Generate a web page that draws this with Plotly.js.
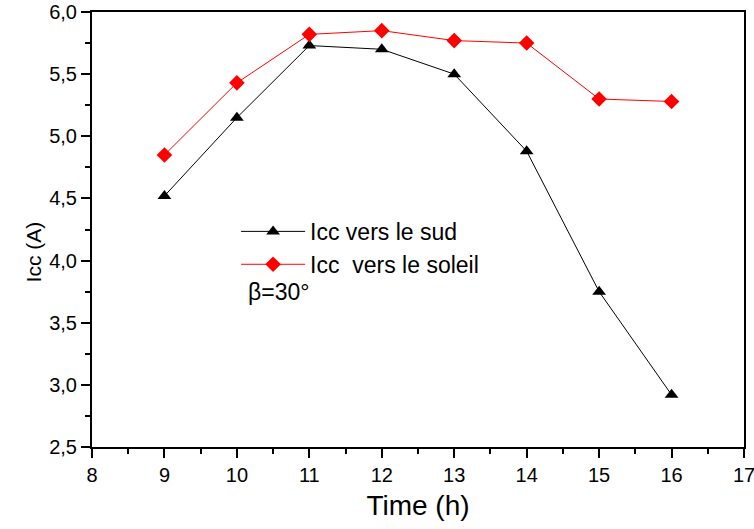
<!DOCTYPE html>
<html><head><meta charset="utf-8">
<script src="https://cdn.plot.ly/plotly-3.0.1.min.js"></script>
<style>html,body{margin:0;padding:0;background:#fff}</style>
</head><body><div id="chart" style="width:754px;height:529px"></div>
<script>
const hours = [9, 10, 11, 12, 13, 14, 15, 16];
const iccSud = [4.52, 5.15, 5.73, 5.70, 5.50, 4.88, 3.75, 2.92];
const iccSoleil = [4.85, 5.43, 5.82, 5.85, 5.77, 5.75, 5.30, 5.28];
const seriesNames = ['Icc vers le sud', 'Icc  vers le soleil'];
const xTitle = 'Time (h)';
const yTitle = 'Icc (A)';
const noteText = 'β=30°';

const font = 'Arial, "Liberation Sans", sans-serif';
const traces = [
  {x: hours, y: iccSud, name: seriesNames[0], type: 'scatter', mode: 'lines+markers',
   line: {color: '#000000', width: 1}, marker: {symbol: 'triangle-up', size: 12, color: '#000000'}},
  {x: hours, y: iccSoleil, name: seriesNames[1], type: 'scatter', mode: 'lines+markers',
   line: {color: '#ff0000', width: 1}, marker: {symbol: 'diamond', size: 12, color: '#ff0000'}}
];
const xaxis = {
  showgrid: false, zeroline: false, showline: true, linecolor: '#000', linewidth: 2, mirror: true,
  ticks: 'outside', ticklen: 9, tickwidth: 2, tickcolor: '#000',
  tickfont: {family: font, size: 20, color: '#000000'},
  ticklabeloverflow: 'allow',
  range: [8, 17], tickmode: 'linear', dtick: 1, tick0: 8,
  minor: {dtick: 0.5, ticks: 'outside', ticklen: 5, tickwidth: 2, tickcolor: '#000'},
  title: {text: xTitle, font: {family: font, size: 28, color: '#000'}, standoff: 10}
};
const yaxis = {
  showgrid: false, zeroline: false, showline: true, linecolor: '#000', linewidth: 2, mirror: true,
  ticks: 'outside', ticklen: 9, tickwidth: 2, tickcolor: '#000',
  tickfont: {family: font, size: 20, color: '#000000'},
  ticklabeloverflow: 'allow',
  range: [2.5, 6.0], tickmode: 'linear', dtick: 0.5, tick0: 2.5, tickformat: '.1f',
  minor: {dtick: 0.25, ticks: 'outside', ticklen: 5, tickwidth: 2, tickcolor: '#000'}
};
const layout = {
  width: 754, height: 529,
  font: {family: font, size: 18, color: '#000'},
  margin: {l: 92, r: 10, t: 12, b: 82},
  paper_bgcolor: '#fff', plot_bgcolor: '#fff',
  separators: ',.',
  showlegend: true,
  legend: {x: 0.221, y: 0.545, xanchor: 'left', yanchor: 'top', bgcolor: 'rgba(0,0,0,0)',
    font: {family: font, size: 23, color: '#000'}, itemwidth: 64, tracegroupgap: 0},
  xaxis: xaxis,
  yaxis: yaxis,
  annotations: [
    {xref: 'paper', yref: 'paper', x: 0.236, y: 0.357, xanchor: 'left', yanchor: 'middle',
     text: noteText, showarrow: false, font: {family: font, size: 23, color: '#000'}},
    {xref: 'paper', yref: 'paper', x: -0.09, y: 0.448, xanchor: 'center', yanchor: 'middle',
     textangle: -90, text: yTitle, showarrow: false, font: {family: font, size: 21, color: '#000'}}
  ]
};
Plotly.newPlot('chart', traces, layout, {displayModeBar: false});
</script></body></html>
